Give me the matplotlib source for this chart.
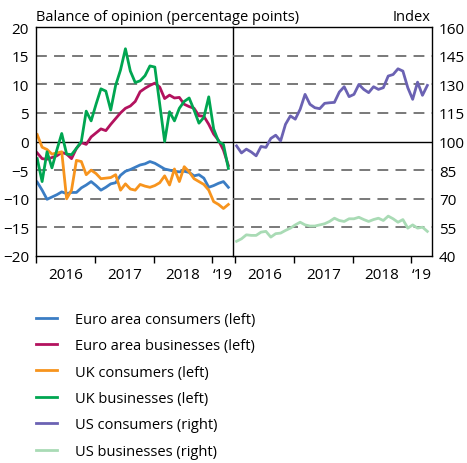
import matplotlib
matplotlib.use("Agg")
import matplotlib.pyplot as plt
import numpy as np

plt.rcParams['font.family'] = ['Open Sans', 'DejaVu Sans']

# monthly, Jan 2016 .. Apr 2019
ea_consumers = [-7.1, -8.5, -10.1, -9.7, -9.3, -8.8, -9.1, -8.9, -8.9, -8.1,
                -7.6, -7.0, -7.7, -8.5, -8.0, -7.4, -7.2, -5.9, -5.2, -4.9,
                -4.5, -4.1, -3.9, -3.5, -3.8, -4.3, -4.8, -5.0, -5.2, -5.3,
                -5.2, -5.4, -6.0, -5.8, -6.4, -8.0, -7.7, -7.3, -7.0, -8.0]
ea_business = [-2.0, -3.0, -3.1, -2.8, -2.5, -1.9, -2.2, -3.0, -1.2, -0.2,
               -0.5, 0.8, 1.5, 2.2, 1.9, 3.0, 4.0, 5.0, 5.8, 6.2,
               7.0, 8.7, 9.3, 9.8, 10.2, 9.5, 7.5, 8.1, 7.6, 7.7,
               6.5, 6.1, 5.8, 4.5, 4.4, 3.0, 1.3, 0.2, -1.5, -4.2]
uk_consumers = [1.2, -1.0, -1.4, -2.2, -2.0, -1.8, -10.0, -8.5, -3.3, -3.5,
                -5.8, -5.0, -5.6, -6.5, -6.4, -6.3, -5.8, -8.5, -7.4, -8.3,
                -8.5, -7.5, -7.8, -8.0, -7.7, -7.2, -6.0, -7.6, -4.8, -7.0,
                -4.4, -5.3, -6.5, -7.0, -7.5, -8.5, -10.5, -11.0, -11.7, -11.0]
uk_business = [-3.0, -7.0, -1.8, -4.6, -1.5, 1.4, -2.2, -2.3, -1.2, 0.0,
               5.3, 3.6, 6.5, 9.2, 8.8, 5.5, 9.8, 12.5, 16.2, 12.3,
               10.3, 10.6, 11.5, 13.2, 13.0, 6.5, 0.0, 5.2, 3.6, 5.8,
               7.0, 7.6, 5.5, 3.2, 4.2, 7.8, 2.2, 0.0, -0.5, -4.7]
us_consumers = [97.7, 94.0, 96.0, 94.5, 92.5, 97.4, 96.9, 101.6, 103.3, 100.3,
                109.0, 113.4, 111.7, 116.9, 124.7, 119.5, 117.7, 117.2, 120.0, 120.3,
                120.5, 125.9, 128.7, 123.5, 124.7, 129.9, 127.3, 125.6, 128.7, 127.3,
                128.2, 134.3, 135.1, 138.1, 136.9, 128.2, 122.1, 131.1, 124.2, 129.4]
us_business = [47.7, 49.0, 51.1, 50.8, 50.8, 52.5, 52.9, 49.9, 51.7, 52.0,
               53.4, 54.6, 56.3, 57.7, 56.3, 55.7, 55.7, 56.3, 56.9, 58.1,
               59.8, 58.6, 58.1, 59.5, 59.5, 60.3, 59.1, 58.1, 59.1, 59.8,
               58.6, 60.9, 59.5, 57.7, 59.1, 54.6, 56.3, 54.6, 55.1, 52.9]

year_labels = ["2016", "2017", "2018", "\u201819"]
year_label_pos = [2016.5, 2017.5, 2018.5, 2019.17]
year_ticks = [2016, 2017, 2018, 2019]

t = 2016 + (np.arange(len(ea_consumers)) + 0.25) / 12

blue = "#3b7dc4"
red = "#b3125e"
orange = "#f7941d"
green = "#00a651"
purple = "#6b62b3"
lgreen = "#a9dbb5"

fig = plt.figure(figsize=(4.67, 4.64), dpi=100)
axl = fig.add_axes([36/467, 1-257/464, 197/467, 229/464])
axr = fig.add_axes([233/467, 1-257/464, 199/467, 229/464])

lw = 2.0
axl.plot(t, ea_consumers, color=blue, lw=lw, label="Euro area consumers (left)")
axl.plot(t, ea_business, color=red, lw=lw, label="Euro area businesses (left)")
axl.plot(t, uk_consumers, color=orange, lw=lw, label="UK consumers (left)")
axl.plot(t, uk_business, color=green, lw=lw, label="UK businesses (left)")
axr.plot(t, us_consumers, color=purple, lw=lw, label="US consumers (right)")
axr.plot(t, us_business, color=lgreen, lw=lw, label="US businesses (right)")

axl.set_ylim(-20, 20)
axl.set_yticks(np.arange(-20, 21, 5))
axr.set_ylim(40, 160)
axr.set_yticks(np.arange(40, 161, 15))

fs = 11
for ax, x0 in ((axl, 2016.0), (axr, 2015.96)):
    ax.set_xlim(x0, 2019.35)
    ax.set_xticks(year_ticks)
    ax.set_xticklabels([])
    ax.set_xticks(year_label_pos, minor=True)
    ax.set_xticklabels(year_labels, minor=True)
    ax.tick_params(axis="x", which="major", direction="out", length=5, width=1)
    ax.tick_params(axis="x", which="minor", length=0, pad=8, labelsize=fs)
    ax.tick_params(axis="y", length=0, labelsize=fs)
    for s in ax.spines.values():
        s.set_linewidth(1)
    ax.set_axisbelow(True)
    ax.set_facecolor("none")

for v in [-15, -10, -5, 5, 10, 15]:
    axl.axhline(v, color="#6e6e6e", lw=1.3, dashes=(6, 4), zorder=0)
axl.axhline(0, color="black", lw=1, zorder=1)
for v in [55, 70, 85, 115, 130, 145]:
    axr.axhline(v, color="#6e6e6e", lw=1.3, dashes=(6, 4), zorder=0)
axr.axhline(100, color="black", lw=1, zorder=1)

axl.tick_params(axis="y", pad=5)
axr.yaxis.tick_right()
axr.tick_params(axis="y", pad=5)
axr.spines["left"].set_visible(False)

fig.text(36/467, 1-21/464, "Balance of opinion (percentage points)", fontsize=10.5,
         ha="left", va="baseline")
fig.text(430/467, 1-21/464, "Index", fontsize=10.5, ha="right", va="baseline")

h1, l1 = axl.get_legend_handles_labels()
h2, l2 = axr.get_legend_handles_labels()
fig.legend(h1 + h2, l1 + l2, loc="upper left", bbox_to_anchor=(30/467, 1-307/464),
           frameon=False, fontsize=10.5, handlelength=1.45, handletextpad=1.25,
           labelspacing=0.78, borderaxespad=0)

fig.savefig("out.png", dpi=100)
